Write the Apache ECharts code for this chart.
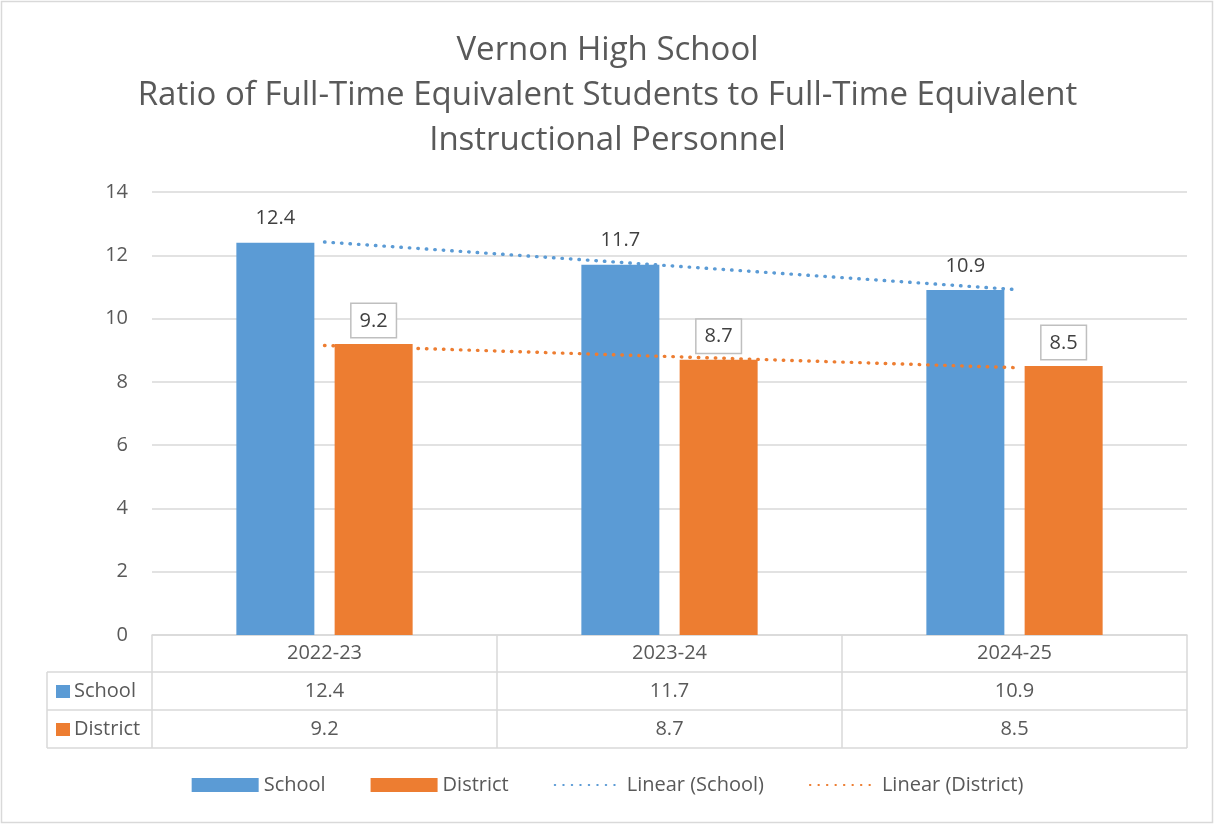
<!DOCTYPE html>
<html>
<head>
<meta charset="utf-8">
<script src="https://cdn.jsdelivr.net/npm/echarts@6/dist/echarts.min.js"></script>
<style>
  html, body { margin: 0; padding: 0; background: #fff; }
  #main { width: 1215px; height: 825px; }
</style>
</head>
<body>
<div id="main"></div>
<script>
var myChart = echarts.init(document.getElementById('main'), null, {renderer: 'canvas'});

// data
var years = ['2022-23', '2023-24', '2024-25'];
var schoolRatio = [12.4, 11.7, 10.9];
var districtRatio = [9.2, 8.7, 8.5];
// linear trend lines (Excel style), read at each category centre
var schoolTrend = [12.42, 11.67, 10.92];
var districtTrend = [9.15, 8.8, 8.45];

var txt = '#595959';
var lineGray = '#d9d9d9';
var font = 'Open Sans';

option = {
    backgroundColor: '#fff',
    textStyle: {fontFamily: font},
    title: {
        text: 'Vernon High School\nRatio of Full-Time Equivalent Students to Full-Time Equivalent\nInstructional Personnel',
        left: 'center',
        top: 23,
        textStyle: {
            fontFamily: font,
            fontWeight: 'normal',
            fontSize: 33,
            lineHeight: 45,
            color: txt
        }
    },
    legend: {
        bottom: 25,
        left: 'center',
        itemWidth: 67,
        itemHeight: 14,
        itemGap: 45,
        textStyle: {fontFamily: font, fontSize: 20, color: txt},
        data: [
            {name: 'School', icon: 'rect'},
            {name: 'District', icon: 'rect'},
            {name: 'Linear (School)', itemStyle: {opacity: 0}},
            {name: 'Linear (District)', itemStyle: {opacity: 0}}
        ]
    },
    grid: {left: 152, right: 28, top: 192, bottom: 190},
    xAxis: [
        {
            type: 'category',
            data: years,
            axisLine: {lineStyle: {color: lineGray, width: 1.5}},
            axisTick: {show: true, length: 113, lineStyle: {color: lineGray, width: 1.5}},
            axisLabel: {color: txt, fontSize: 20, margin: 8}
        },
        {
            type: 'category',
            position: 'bottom',
            offset: 38,
            data: schoolRatio.map(String),
            axisLine: {show: false},
            axisTick: {show: false},
            axisLabel: {color: txt, fontSize: 20, margin: 8}
        },
        {
            type: 'category',
            position: 'bottom',
            offset: 76,
            data: districtRatio.map(String),
            axisLine: {show: false},
            axisTick: {show: false},
            axisLabel: {color: txt, fontSize: 20, margin: 8}
        }
    ],
    yAxis: {
        type: 'value',
        min: 0,
        max: 14,
        interval: 2,
        axisLine: {show: false},
        axisTick: {show: false},
        axisLabel: {color: txt, fontSize: 20, margin: 24},
        splitLine: {lineStyle: {color: lineGray, width: 1.5}}
    },
    series: [
        {
            name: 'School',
            type: 'bar',
            data: schoolRatio,
            barWidth: 78,
            barGap: '26%',
            itemStyle: {color: '#5b9bd5'},
            z: 2,
            label: {
                show: true,
                position: 'top',
                distance: 14,
                color: '#404040',
                fontSize: 20
            }
        },
        {
            name: 'District',
            type: 'bar',
            data: districtRatio,
            barWidth: 78,
            itemStyle: {color: '#ed7d31'},
            z: 2,
            label: {
                show: true,
                position: 'top',
                distance: 7,
                color: '#404040',
                fontSize: 20,
                borderColor: '#bfbfbf',
                borderWidth: 1.5,
                padding: [7, 8, 6, 8],
                backgroundColor: '#fff'
            }
        },
        {
            name: 'Linear (School)',
            type: 'line',
            data: schoolTrend,
            symbol: 'none',
            z: 3,
            silent: true,
            lineStyle: {color: '#5b9bd5', width: 3.4, type: [0.5, 8], cap: 'round'},
            itemStyle: {color: '#5b9bd5'}
        },
        {
            name: 'Linear (District)',
            type: 'line',
            data: districtTrend,
            symbol: 'none',
            z: 3,
            silent: true,
            lineStyle: {color: '#ed7d31', width: 3.4, type: [0.5, 8], cap: 'round'},
            itemStyle: {color: '#ed7d31'}
        }
    ],
    graphic: [
        // outer chart border
        {type: 'rect', shape: {x: 1.5, y: 1.5, width: 1211, height: 821}, style: {fill: null, stroke: lineGray, lineWidth: 1.5}, silent: true},
        // data table rows
        {type: 'line', shape: {x1: 47, y1: 672, x2: 1187, y2: 672}, style: {stroke: lineGray, lineWidth: 1.5}},
        {type: 'line', shape: {x1: 47, y1: 710, x2: 1187, y2: 710}, style: {stroke: lineGray, lineWidth: 1.5}},
        {type: 'line', shape: {x1: 47, y1: 748, x2: 1187, y2: 748}, style: {stroke: lineGray, lineWidth: 1.5}},
        {type: 'line', shape: {x1: 47, y1: 672, x2: 47, y2: 748}, style: {stroke: lineGray, lineWidth: 1.5}},
        // legend keys in table
        {type: 'rect', shape: {x: 56, y: 685, width: 14, height: 13}, style: {fill: '#5b9bd5'}},
        {type: 'text', x: 74, y: 691, style: {text: 'School', fill: txt, font: '20px "Open Sans"', textVerticalAlign: 'middle'}},
        {type: 'rect', shape: {x: 56, y: 723, width: 14, height: 13}, style: {fill: '#ed7d31'}},
        {type: 'text', x: 74, y: 729, style: {text: 'District', fill: txt, font: '20px "Open Sans"', textVerticalAlign: 'middle'}}
    ]
};

myChart.setOption(option);
</script>
</body>
</html>
